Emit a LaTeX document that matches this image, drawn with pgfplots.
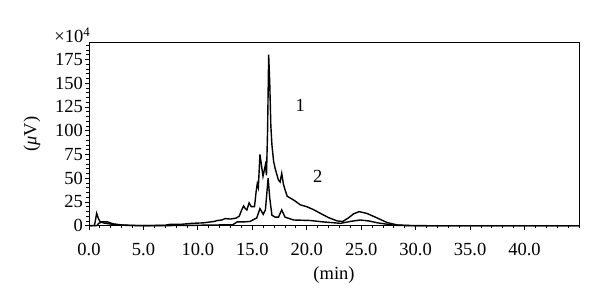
\documentclass[border=0pt]{standalone}
\usepackage{pgfplots}
\pgfplotsset{compat=1.18}
\usepackage{fontspec}
\setmainfont{Liberation Serif}
\begin{document}
\begin{tikzpicture}[font=\fontsize{18.5}{22}\selectfont]
\useasboundingbox (0,0) rectangle (600pt,308pt);
\begin{axis}[
  at={(89pt,82.3pt)}, anchor=south west,
  width=490pt, height=183.4pt, scale only axis,
  xmin=0, xmax=45, ymin=0, ymax=193,
  xtick={0,5,...,40},
  xticklabels={0.0,5.0,10.0,15.0,20.0,25.0,30.0,35.0,40.0},
  minor xtick={0,1,...,45},
  ytick={0,25,...,175},
  minor ytick={0,5,...,190},
  tick align=outside,
  xtick pos=bottom, ytick pos=left,
  major tick length=4pt, minor tick length=2.5pt,
  every tick/.style={black, line width=0.8pt},
  axis line style={line width=0.9pt},
  /pgf/number format/assume math mode=true,
  xticklabel style={yshift=-10pt},
  yticklabel style={xshift=1.5pt},
  xlabel={(min)}, ylabel={({\itshape μ}V)},
  xlabel style={yshift=-4pt},
  ylabel style={yshift=8pt},
  clip=false,
]
\addplot[black, line width=1.4pt] coordinates {
(0,0) (0.5,0.3) (0.6,6) (0.7,13) (0.85,8) (1.0,4.5) (1.3,3) (1.8,2) (2.5,1) (3.5,0.3) (5,0)
(7,0.5) (7.5,1.5) (8.5,1.5) (9.5,2.5) (10.5,3) (11.5,4.5) (11.8,5.5) (12.2,6) (12.5,7.5) (13,7)
(13.5,8) (13.8,10) (14.0,16) (14.2,20.8) (14.35,18) (14.5,16.6) (14.7,24) (14.9,20) (15.2,20)
(15.35,36) (15.45,44) (15.55,40) (15.7,75) (15.98,52) (16.2,64) (16.3,53) (16.4,100) (16.5,180)
(16.6,150) (16.7,105) (16.8,85) (16.95,68) (17.1,60) (17.4,48) (17.55,46) (17.7,55) (17.85,44)
(18.0,38) (18.2,31) (18.5,29) (18.8,27) (19.4,22) (20.0,20) (20.6,17) (21.25,13) (22,8.5)
(22.8,5) (23.3,4.5) (23.8,8) (24.3,12.5) (24.8,14.8) (25.5,13) (26.2,9.5) (27.4,3.2) (28.3,0.8)
(29.5,0.2) (31,0) (45,0)
};
\addplot[black, line width=1.4pt] coordinates {
(0,0) (0.7,0) (0.9,2.5) (1.2,4) (1.7,4) (2.2,2) (3,0.8) (4,0.3) (6,0) (9,0.3) (12,0.8) (13.2,1)
(13.6,4) (14.2,4) (14.8,4.5) (15.2,7) (15.4,8) (15.7,18) (16.0,12) (16.2,16.5) (16.3,30)
(16.45,50) (16.6,29) (16.8,11) (17.1,9) (17.4,9) (17.7,16.6) (18.0,9) (18.8,6) (20.3,5.5)
(21.5,4) (23.1,2.5) (24.0,4.5) (24.9,6) (25.7,5) (26.5,3) (28,0.5) (29.5,0) (45,0)
};
\node at (axis cs:19.4,127) {1};
\node at (axis cs:21.0,52) {2};
\node[anchor=base east, inner sep=0pt] at ([xshift=1.5pt]rel axis cs:0,1) {×10\textsuperscript{4}};
\end{axis}
\end{tikzpicture}
\end{document}
